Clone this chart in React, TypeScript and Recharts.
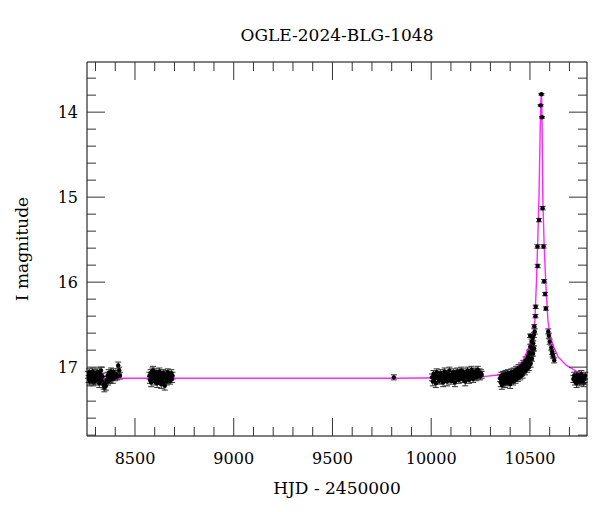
import { ComposedChart, Scatter, Line, XAxis, YAxis, ErrorBar } from "recharts"

// photometry: [HJD-2450000, I mag, error]
const season2018: [number, number, number][] = [
    [8262, 17.09, 0.04], [8265, 17.14, 0.04], [8268, 17.06, 0.04], [8271, 17.17, 0.05], [8274, 17.11, 0.04],
    [8277, 17.08, 0.04], [8280, 17.15, 0.04], [8283, 17.12, 0.05], [8286, 17.05, 0.04], [8289, 17.18, 0.04],
    [8292, 17.10, 0.04], [8295, 17.13, 0.04], [8298, 17.07, 0.04], [8301, 17.16, 0.05], [8304, 17.09, 0.04],
    [8307, 17.12, 0.04], [8310, 17.06, 0.04], [8313, 17.14, 0.05], [8316, 17.10, 0.04], [8319, 17.19, 0.05],
    [8322, 17.08, 0.04], [8325, 17.13, 0.04], [8328, 17.04, 0.04], [8331, 17.16, 0.05], [8336, 17.11, 0.04],
    [8341, 17.21, 0.05], [8345, 17.24, 0.05], [8349, 17.19, 0.04], [8353, 17.22, 0.05], [8357, 17.15, 0.04],
    [8361, 17.10, 0.04], [8364, 17.17, 0.04], [8367, 17.07, 0.04], [8370, 17.13, 0.05], [8373, 17.09, 0.04],
    [8376, 17.15, 0.04], [8379, 17.05, 0.04], [8382, 17.11, 0.04], [8385, 17.08, 0.04], [8388, 17.14, 0.05],
    [8391, 17.06, 0.04], [8395, 17.10, 0.04], [8399, 17.12, 0.04], [8404, 17.08, 0.04], [8410, 17.11, 0.04],
    [8415, 16.98, 0.04], [8420, 17.04, 0.04], [8424, 17.10, 0.04],
]

const season2019: [number, number, number][] = [
    [8573, 17.10, 0.04], [8576, 17.15, 0.04], [8579, 17.07, 0.04], [8582, 17.18, 0.05], [8585, 17.12, 0.04],
    [8588, 17.05, 0.04], [8591, 17.04, 0.05], [8594, 17.14, 0.04], [8597, 17.09, 0.04], [8600, 17.17, 0.04],
    [8603, 17.11, 0.04], [8606, 17.06, 0.04], [8609, 17.13, 0.04], [8612, 17.19, 0.05], [8615, 17.08, 0.04],
    [8618, 17.15, 0.04], [8621, 17.10, 0.04], [8624, 17.05, 0.04], [8627, 17.16, 0.04], [8630, 17.12, 0.04],
    [8633, 17.20, 0.05], [8636, 17.09, 0.04], [8639, 17.14, 0.04], [8642, 17.07, 0.04], [8645, 17.18, 0.04],
    [8648, 17.11, 0.04], [8651, 17.22, 0.05], [8654, 17.13, 0.04], [8657, 17.08, 0.04], [8660, 17.17, 0.04],
    [8663, 17.10, 0.04], [8666, 17.06, 0.04], [8669, 17.15, 0.04], [8672, 17.12, 0.04], [8675, 17.09, 0.04],
    [8678, 17.16, 0.04], [8681, 17.11, 0.04], [8684, 17.07, 0.04], [8687, 17.14, 0.04], [8690, 17.10, 0.04],
]

const season2022: [number, number, number][] = [[9811, 17.12, 0.03]]

const season2023: [number, number, number][] = [
    [10004, 17.12, 0.04], [10008, 17.17, 0.05], [10012, 17.08, 0.04], [10016, 17.14, 0.04], [10020, 17.10, 0.04],
    [10024, 17.19, 0.05], [10028, 17.06, 0.04], [10032, 17.13, 0.04], [10036, 17.09, 0.04], [10040, 17.16, 0.04],
    [10044, 17.11, 0.04], [10048, 17.07, 0.04], [10052, 17.15, 0.04], [10056, 17.12, 0.04], [10060, 17.18, 0.05],
    [10064, 17.09, 0.04], [10068, 17.05, 0.04], [10072, 17.14, 0.04], [10076, 17.10, 0.04], [10080, 17.17, 0.05],
    [10084, 17.08, 0.04], [10088, 17.13, 0.04], [10092, 17.04, 0.04], [10096, 17.11, 0.04], [10100, 17.16, 0.04],
    [10104, 17.09, 0.04], [10108, 17.14, 0.04], [10112, 17.06, 0.04], [10116, 17.12, 0.04], [10120, 17.18, 0.05],
    [10124, 17.08, 0.04], [10128, 17.13, 0.04], [10132, 17.05, 0.04], [10136, 17.10, 0.04], [10140, 17.15, 0.04],
    [10144, 17.07, 0.04], [10148, 17.12, 0.04], [10152, 17.04, 0.04], [10156, 17.09, 0.04], [10160, 17.14, 0.04],
    [10164, 17.06, 0.04], [10168, 17.11, 0.04], [10172, 17.17, 0.05], [10176, 17.08, 0.04], [10180, 17.12, 0.04],
    [10184, 17.04, 0.04], [10188, 17.10, 0.04], [10192, 17.15, 0.04], [10196, 17.07, 0.04], [10200, 17.11, 0.04],
    [10204, 17.03, 0.04], [10208, 17.09, 0.04], [10212, 17.14, 0.04], [10216, 17.06, 0.04], [10220, 17.10, 0.04],
    [10224, 17.05, 0.04], [10228, 17.12, 0.04], [10232, 17.08, 0.04], [10236, 17.03, 0.04], [10240, 17.10, 0.04],
    [10244, 17.06, 0.04], [10248, 17.11, 0.04], [10252, 17.07, 0.04], [10256, 17.09, 0.04],
]

const season2024: [number, number, number][] = [
    [10349, 17.13, 0.04], [10352, 17.18, 0.05], [10355, 17.10, 0.04], [10358, 17.21, 0.05], [10361, 17.14, 0.04],
    [10364, 17.09, 0.04], [10367, 17.17, 0.04], [10370, 17.12, 0.04], [10373, 17.19, 0.05], [10376, 17.08, 0.04],
    [10379, 17.15, 0.04], [10382, 17.11, 0.04], [10385, 17.18, 0.04], [10388, 17.07, 0.04], [10391, 17.13, 0.04],
    [10394, 17.16, 0.04], [10397, 17.09, 0.04], [10400, 17.20, 0.05], [10403, 17.12, 0.04], [10406, 17.06, 0.04],
    [10409, 17.14, 0.04], [10412, 17.10, 0.04], [10415, 17.17, 0.04], [10418, 17.05, 0.04], [10421, 17.12, 0.04],
    [10424, 17.08, 0.04], [10427, 17.15, 0.04], [10430, 17.03, 0.04], [10433, 17.10, 0.04], [10436, 17.06, 0.04],
    [10439, 17.13, 0.04], [10442, 17.01, 0.04], [10445, 17.08, 0.04], [10448, 17.04, 0.04], [10451, 17.11, 0.04],
    [10454, 16.99, 0.04], [10457, 17.06, 0.04], [10460, 17.02, 0.04], [10463, 17.09, 0.04], [10466, 16.96, 0.04],
    [10469, 17.03, 0.04], [10472, 16.98, 0.04], [10475, 17.05, 0.04], [10478, 16.92, 0.04], [10481, 16.99, 0.04],
    [10484, 16.95, 0.04], [10487, 17.02, 0.04], [10490, 16.88, 0.03], [10493, 16.94, 0.04], [10495, 17.00, 0.04],
    [10496, 16.83, 0.03], [10499, 16.90, 0.04], [10501, 16.63, 0.02], [10502, 16.76, 0.03], [10504, 16.96, 0.04],
    [10505, 16.84, 0.03], [10508, 16.70, 0.03], [10510, 16.90, 0.03], [10511, 16.78, 0.03], [10514, 16.66, 0.03],
    [10516, 16.84, 0.03], [10517, 16.72, 0.03], [10520, 16.62, 0.03], [10521, 16.78, 0.03], [10522, 16.52, 0.02],
    [10524, 16.58, 0.03], [10528, 16.40, 0.02], [10529, 16.29, 0.02], [10538, 15.58, 0.02], [10539, 15.81, 0.02],
    [10546, 15.27, 0.02], [10554, 13.92, 0.01], [10558, 13.79, 0.01], [10561, 14.06, 0.01], [10564, 15.13, 0.02],
    [10569, 15.58, 0.02], [10572, 15.99, 0.02], [10577, 16.14, 0.02], [10581, 16.31, 0.02], [10593, 16.58, 0.03],
    [10596, 16.63, 0.03], [10600, 16.70, 0.03], [10608, 16.77, 0.03], [10612, 16.82, 0.03], [10615, 16.85, 0.03],
    [10618, 16.87, 0.03], [10623, 16.92, 0.03],
]

const season2025: [number, number, number][] = [
    [10720, 17.14, 0.04], [10724, 17.10, 0.04], [10728, 17.17, 0.04], [10732, 17.12, 0.04], [10736, 17.19, 0.05],
    [10740, 17.09, 0.04], [10744, 17.15, 0.04], [10748, 17.11, 0.04], [10752, 17.18, 0.04], [10756, 17.13, 0.04],
    [10760, 17.08, 0.04], [10764, 17.16, 0.04], [10768, 17.12, 0.04], [10772, 17.19, 0.04], [10776, 17.14, 0.04],
    [10780, 17.10, 0.04],
]

// model curve
const modelCurve: [number, number][] = [
    [8257, 17.13], [9000, 17.13], [9800, 17.13], [10100, 17.125], [10250, 17.115], [10350, 17.09],
    [10415, 17.05], [10466, 16.92], [10500, 16.74], [10517, 16.6], [10525, 16.45], [10533, 16.0],
    [10539, 15.56], [10546, 14.99], [10552, 14.2], [10555, 13.9], [10558, 13.77], [10560, 13.9],
    [10562, 14.2], [10565, 14.99], [10572, 15.56], [10580, 16.0], [10591, 16.45], [10600, 16.6],
    [10618, 16.75], [10643, 16.88], [10685, 16.98], [10736, 17.05], [10789, 17.09],
]

const xTicks = [8300, 8400, 8500, 8600, 8700, 8800, 8900, 9000, 9100, 9200, 9300, 9400, 9500, 9600,
    9700, 9800, 9900, 10000, 10100, 10200, 10300, 10400, 10500, 10600, 10700]
const yTicks = [13.6, 13.8, 14, 14.2, 14.4, 14.6, 14.8, 15, 15.2, 15.4, 15.6, 15.8, 16, 16.2, 16.4,
    16.6, 16.8, 17, 17.2, 17.4, 17.6, 17.8]

const FONT = "DejaVu Serif"
const points = [...season2018, ...season2019, ...season2022, ...season2023, ...season2024, ...season2025]
    .map(([t, m, e]) => ({ t, m, e }))
const model = modelCurve.map(([t, m]) => ({ t, m }))

const isMajorX = (v: number) => v % 500 === 0
const isMajorY = (v: number) => Math.abs(v - Math.round(v)) < 1e-6

const BottomTick = ({ x, y, payload }: any) => {
    const major = isMajorX(payload.value)
    return (
        <g>
            <line x1={x} x2={x} y1={y} y2={y - (major ? 18 : 9)} stroke="#333" />
            {major && (
                <text x={x} y={y + 22} textAnchor="middle" dominantBaseline="central"
                    style={{ fontFamily: FONT, fontSize: 16, fill: "#000" }}>{payload.value}</text>
            )}
        </g>
    )
}

const TopTick = ({ x, y, payload }: any) => {
    const major = isMajorX(payload.value)
    return <line x1={x} x2={x} y1={y} y2={y + (major ? 18 : 9)} stroke="#333" />
}

const LeftTick = ({ x, y, payload }: any) => {
    const major = isMajorY(payload.value)
    return (
        <g>
            <line x1={x} x2={x + (major ? 18 : 9)} y1={y} y2={y} stroke="#333" />
            {major && (
                <text x={x - 9} y={y} textAnchor="end" dominantBaseline="central"
                    style={{ fontFamily: FONT, fontSize: 16, fill: "#000" }}>{Math.round(payload.value)}</text>
            )}
        </g>
    )
}

const RightTick = ({ x, y, payload }: any) => {
    const major = isMajorY(payload.value)
    return <line x1={x} x2={x - (major ? 18 : 9)} y1={y} y2={y} stroke="#333" />
}

const DotShape = (props: any) => <circle cx={props.cx} cy={props.cy} r={2.2} fill="#000" />

const axisCommon = {
    type: "number" as const,
    allowDataOverflow: true,
    interval: 0 as const,
    tickSize: 0,
    tickMargin: 0,
    tickLine: false,
    axisLine: { stroke: "#000" },
}

export default function App() {
    return (
        <div style={{ position: "absolute", left: 0, top: 0, width: 600, height: 512, background: "#fff", fontFamily: FONT }}>
            <ComposedChart width={600} height={512} margin={{ top: 61, right: 12, bottom: 75, left: 86 }}>
                <XAxis {...axisCommon} xAxisId="b" dataKey="t" orientation="bottom" height={1}
                    domain={[8257, 10789]} ticks={xTicks} tick={BottomTick} />
                <XAxis {...axisCommon} xAxisId="t" dataKey="t" orientation="top" height={1}
                    domain={[8257, 10789]} ticks={xTicks} tick={TopTick} />
                <YAxis {...axisCommon} yAxisId="l" dataKey="m" orientation="left" width={1} reversed
                    domain={[13.41, 17.81]} ticks={yTicks} tick={LeftTick} />
                <YAxis {...axisCommon} yAxisId="r" dataKey="m" orientation="right" width={1} reversed
                    domain={[13.41, 17.81]} ticks={yTicks} tick={RightTick} />
                <Scatter xAxisId="b" yAxisId="l" data={points} dataKey="m" shape={DotShape} isAnimationActive={false}>
                    <ErrorBar dataKey="e" direction="y" width={3} stroke="#333" strokeWidth={1} />
                </Scatter>
                <Line xAxisId="b" yAxisId="l" data={model} dataKey="m" type="linear" dot={false}
                    stroke="#ff00ff" strokeWidth={1.4} strokeOpacity={0.85} isAnimationActive={false} />
            </ComposedChart>
            <div style={{ position: "absolute", left: 87, width: 500, top: 24, textAlign: "center", fontSize: 17, lineHeight: "22px" }}>
                OGLE-2024-BLG-1048
            </div>
            <div style={{ position: "absolute", left: 87, width: 500, top: 477, textAlign: "center", fontSize: 17, lineHeight: "22px" }}>
                HJD - 2450000
            </div>
            <div style={{
                position: "absolute", left: 22, top: 249, fontSize: 17, lineHeight: "22px", whiteSpace: "nowrap",
                transform: "translate(-50%, -50%) rotate(-90deg)",
            }}>
                I magnitude
            </div>
        </div>
    )
}
